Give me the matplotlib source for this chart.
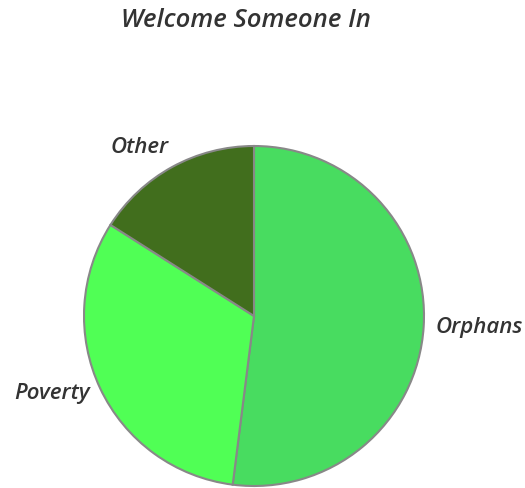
import matplotlib
matplotlib.use('Agg')
import matplotlib.pyplot as plt

# Chart data
categories = ['Orphans', 'Poverty', 'Other']
values = [13, 8, 4]
colors = ['#48DC60', '#50FF55', '#416E1D']

plt.rcParams['font.family'] = ['Open Sans', 'DejaVu Sans']

fig = plt.figure(figsize=(5.25, 4.88), dpi=100)
ax = fig.add_axes([0, 0, 1, 1])

cx, cy = 254, 172

# Draw the pie, clockwise from the top
wedges, texts = ax.pie(values, labels=categories, colors=colors,
                       startangle=90, counterclock=False,
                       center=(cx, cy), radius=170, labeldistance=1.07,
                       wedgeprops=dict(edgecolor='#888888', linewidth=1.5),
                       textprops=dict(fontsize=16, fontweight='semibold',
                                      fontstyle='italic', color='#333333'))

# label alignment relative to the pie centre
for t in texts:
    x, y = t.get_position()
    t.set_ha('left' if x > cx else 'right')
# "Other" sits a little higher in the reference
x, y = texts[2].get_position()
texts[2].set_position((x + 2, y + 9))

# pie() resets the limits, so set them afterwards (pixel-like units)
ax.set_xlim(0, 525)
ax.set_ylim(0, 488)
ax.set_aspect('equal')
ax.axis('off')

# Title
fig.text(0.469, 0.958, 'Welcome Someone In', ha='center', va='center',
         fontsize=18.5, fontweight='semibold', fontstyle='italic', color='#333333')

fig.savefig('out.png', dpi=100)
